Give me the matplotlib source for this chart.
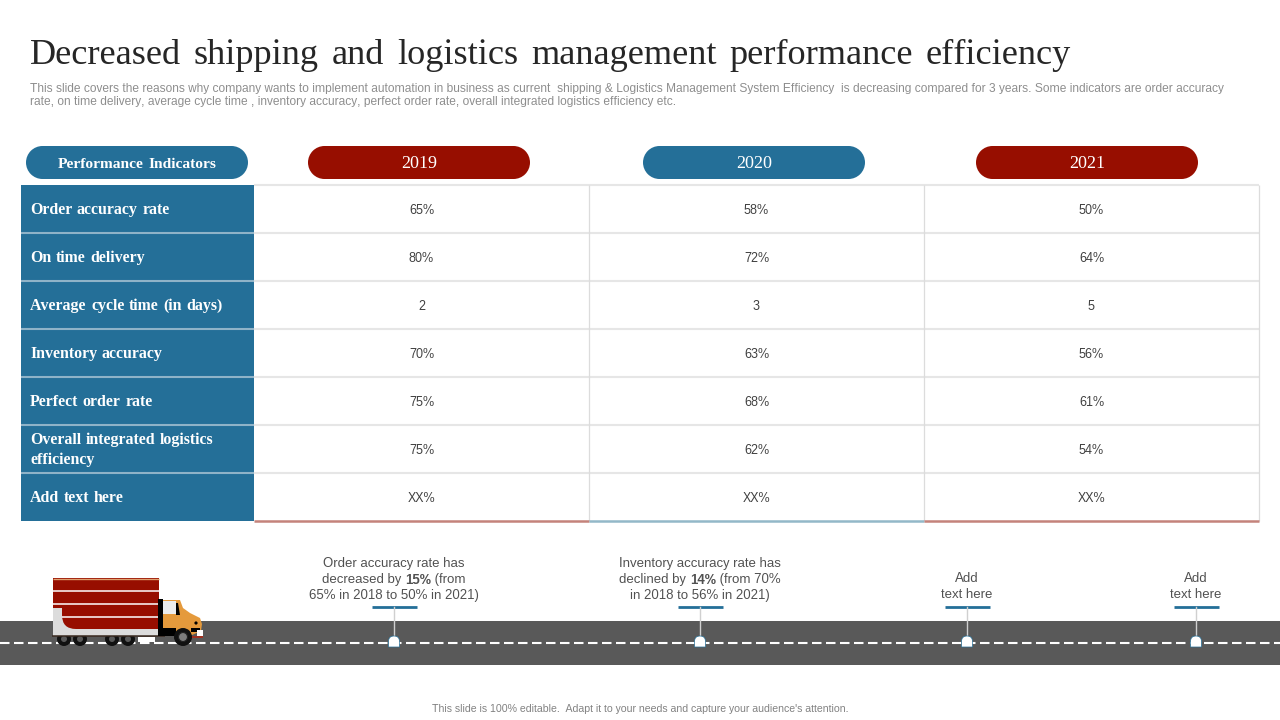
"""Slide: shipping and logistics performance table with road timeline."""
import matplotlib

matplotlib.use("Agg")
import matplotlib.pyplot as plt
from matplotlib.patches import Circle, PathPatch, Polygon, Rectangle
from matplotlib.path import Path

plt.rcParams["text.hinting"] = "default"
plt.rcParams["text.hinting_factor"] = 8
plt.rcParams["text.kerning_factor"] = 6

BLUE = "#246f98"
RED = "#970e00"
ROAD = "#595959"
SANS = "Liberation Sans"
SERIF = "Liberation Serif"

TITLE = "Decreased shipping and logistics management performance efficiency"
SUBTITLE = [
    "This slide covers the reasons why company wants to implement automation in business as current  shipping & Logistics Management System Efficiency  is decreasing compared for 3 years. Some indicators are order accuracy",
    "rate, on time delivery, average cycle time , inventory accuracy, perfect order rate, overall integrated logistics efficiency etc.",
]
FOOTER = "This slide is 100% editable.  Adapt it to your needs and capture your audience's attention."

HEADER = "Performance Indicators"
YEARS = ["2019", "2020", "2021"]
INDICATORS = [
    "Order accuracy rate",
    "On time delivery",
    "Average cycle time (in days)",
    "Inventory accuracy",
    "Perfect order rate",
    "Overall integrated logistics\nefficiency",
    "Add text here",
]
VALUES_2019 = ["65%", "80%", "2", "70%", "75%", "75%", "XX%"]
VALUES_2020 = ["58%", "72%", "3", "63%", "68%", "62%", "XX%"]
VALUES_2021 = ["50%", "64%", "5", "56%", "61%", "54%", "XX%"]

NOTES = [
    [[("Order accuracy rate has", "normal")],
     [("decreased by ", "normal"), ("15%", "bold"), (" (from", "normal")],
     [("65% in 2018 to 50% in 2021)", "normal")]],
    [[("Inventory accuracy rate has", "normal")],
     [("declined by ", "normal"), ("14%", "bold"), (" (from 70%", "normal")],
     [("in 2018 to 56% in 2021)", "normal")]],
    [[("Add", "normal")], [("text here", "normal")]],
    [[("Add", "normal")], [("text here", "normal")]],
]
NOTE_X = [394, 700, 967, 1196]

fig = plt.figure(figsize=(12.8, 7.2), dpi=100)
ax = fig.add_axes([0, 0, 1, 1])
ax.set_xlim(0, 1280)
ax.set_ylim(720, 0)
ax.axis("off")
rend = fig.canvas.get_renderer()


def text_width(s, **kw):
    t = ax.text(0, 0, s.replace(" ", "\u00a0"), **kw)
    w = t.get_window_extent(rend).width
    t.remove()
    return w


def pill(x0, x1, y0, y1, color):
    r = (y1 - y0) / 2
    ax.add_patch(Rectangle((x0 + r, y0), x1 - x0 - 2 * r, y1 - y0, fc=color, ec="none"))
    ax.add_patch(Circle((x0 + r, y0 + r), r, fc=color, ec="none"))
    ax.add_patch(Circle((x1 - r, y0 + r), r, fc=color, ec="none"))


def spaced(x, y, s, gap, center=False, **kw):
    # the slide's word gaps are wider than a normal space, so place word by word
    words = s.split(" ")
    widths = [text_width(w, **kw) for w in words]
    if center:
        x -= (sum(widths) + gap * (len(words) - 1)) / 2
    for w, wd in zip(words, widths):
        ax.text(x, y, w, ha="left", va="baseline", **kw)
        x += wd + gap


def mixed_line(cx, y, parts, size=9.5, color="#505050"):
    widths = [text_width(s, fontsize=size, family=SANS, weight=w) for s, w in parts]
    x = cx - sum(widths) / 2
    for (s, w), wd in zip(parts, widths):
        # bold figures have no descender and land a pixel high
        dy = 1 if w == "bold" else 0
        ax.text(x, y + dy, s.replace(" ", "\u00a0"), fontsize=size, family=SANS, weight=w,
                color=color, ha="left", va="baseline")
        x += wd


# title block
spaced(30, 64, TITLE, 12.8, fontsize=26.15, family=SERIF, color="#262626")
ax.text(30, 88, SUBTITLE[0], fontsize=8.63, family=SANS, color="#8c8c8c", ha="left", va="center")
ax.text(30, 101.6, SUBTITLE[1], fontsize=8.63, family=SANS, color="#8c8c8c", ha="left", va="center")

# header pills
pill(26, 248, 146, 179, BLUE)
spaced(137, 168, HEADER, 5, center=True, fontsize=11.15, family=SERIF, weight="bold", color="white")
year_x = [(308, 530), (643, 865), (976, 1198)]
year_col = [RED, BLUE, RED]
for yr, (x0, x1), c in zip(YEARS, year_x, year_col):
    pill(x0, x1, 146, 179, c)
    ax.text((x0 + x1) / 2, 168.5, yr, fontsize=13, family=SERIF, color="white",
            ha="center", va="baseline")

# table
top, rh = 185, 48
col_x = [254, 589, 924, 1259]
bottom = top + rh * len(INDICATORS)
ax.add_patch(Rectangle((21, top), 233, bottom - top, fc=BLUE, ec="none"))
for i in range(len(INDICATORS) + 1):
    y = top + i * rh
    if i < len(INDICATORS):
        ax.plot([254, 1259], [y, y], color="#e6e6e6", lw=1.5, solid_capstyle="butt")
    if 0 < i < len(INDICATORS):
        ax.plot([21, 254], [y, y], color="#8fb3c8", lw=1.5, solid_capstyle="butt")
for x in col_x[1:]:
    ax.plot([x, x], [top, bottom], color="#dcdcdc", lw=0.9, solid_capstyle="butt")
for (x0, x1), c in zip(zip(col_x[:-1], col_x[1:]), ["#c4837b", "#93b8c8", "#c4837b"]):
    ax.plot([x0, x1], [bottom, bottom], color=c, lw=1.8, solid_capstyle="butt")

for i, label in enumerate(INDICATORS):
    cy = top + rh * i + rh / 2
    lines = label.split("\n")
    off = -10 * (len(lines) - 1)
    for k, ln in enumerate(lines):
        spaced(30, cy + off + 20 * k + 5, ln, 4.5, fontsize=11.4, family=SERIF, weight="bold",
               color="white")
    for j, vals in enumerate([VALUES_2019, VALUES_2020, VALUES_2021]):
        ax.text((col_x[j] + col_x[j + 1]) / 2, cy + 4.5, vals[i], fontsize=9, family=SANS,
                color="#404040", ha="center", va="baseline")

# road
ax.add_patch(Rectangle((0, 621), 1280, 44, fc=ROAD, ec="none"))
ax.plot([0, 1280], [643, 643], color="white", lw=1.5, dashes=(4.56, 2.16))

# callouts on the road
for cx, note in zip(NOTE_X, NOTES):
    ax.plot([cx, cx], [607, 637], color="#d0d0d0", lw=1, zorder=3)
    ax.plot([cx - 22.5, cx + 22.5], [606.5, 606.5], color=BLUE, lw=2, solid_capstyle="butt")
    pin = Path([(cx - 5.5, 647), (cx - 5.5, 641.5), (cx - 5.5, 636), (cx, 636), (cx + 5.5, 636),
                (cx + 5.5, 641.5), (cx + 5.5, 647), (cx - 5.5, 647)],
               [Path.MOVETO, Path.LINETO, Path.CURVE3, Path.CURVE3, Path.CURVE3, Path.CURVE3,
                Path.LINETO, Path.CLOSEPOLY])
    ax.add_patch(PathPatch(pin, fc="white", ec=BLUE, lw=0.5, zorder=4))
    n = len(note)
    for k, parts in enumerate(note):
        mixed_line(cx, 598.5 - 16 * (n - 1 - k), parts)

# truck
ax.add_patch(Rectangle((53, 578), 106, 58, fc="#dcdcdc", ec="none", zorder=5))
body = Path([(53, 578), (159, 578), (159, 629), (76, 629), (62, 629), (62, 615), (62, 608), (53, 608), (53, 578)],
            [Path.MOVETO, Path.LINETO, Path.LINETO, Path.LINETO, Path.CURVE3, Path.CURVE3,
             Path.LINETO, Path.LINETO, Path.CLOSEPOLY])
ax.add_patch(PathPatch(body, fc=RED, ec="none", zorder=6))
ax.plot([53, 159], [578.5, 578.5], color="#e0a070", lw=1, zorder=7, solid_capstyle="butt")
for y, x0 in zip([591.3, 604, 616.7], [53, 53, 62]):
    ax.plot([x0, 159], [y, y], color="white", lw=1.1, zorder=7, solid_capstyle="butt")
ax.plot([52, 165], [635.8, 635.8], color="#3a2a20", lw=1.1, zorder=7, solid_capstyle="butt")
ax.add_patch(Rectangle((138, 637), 17, 4.5, fc="white", ec="none", zorder=5))
for wx in [64, 80, 112, 128]:
    ax.add_patch(Circle((wx, 639), 7, fc="#111111", ec="none", zorder=4))
    ax.add_patch(Circle((wx, 639), 3, fc=ROAD, ec="none", zorder=4))
ax.add_patch(Polygon([(163, 600), (180, 600), (183, 608), (190, 613), (200, 618), (202, 624), (201, 631),
                      (190, 636), (163, 636)], fc="#e59a3c", ec="none", zorder=6))
ax.add_patch(Rectangle((158, 599), 5, 37, fc="black", ec="none", zorder=7))
ax.add_patch(Polygon([(160, 628), (176, 628), (176, 636), (160, 636)], fc="black", ec="none", zorder=7))
ax.add_patch(Rectangle((163, 601), 13, 13, fc="#ececec", ec="none", zorder=7))
ax.add_patch(Polygon([(176, 603), (178, 603), (180, 615), (176, 615)], fc="black", ec="none", zorder=8))
ax.add_patch(Polygon([(191, 628), (200, 628), (200, 632), (191, 632)], fc="black", ec="none", zorder=7))
ax.add_patch(Rectangle((197, 630), 6, 6, fc="white", ec="none", zorder=8))
ax.add_patch(Rectangle((192, 636), 11, 2, fc="#a03020", ec="none", zorder=8))
ax.add_patch(Circle((196, 623), 1.6, fc="black", ec="none", zorder=8))
ax.add_patch(Circle((183, 637), 9, fc="#111111", ec="none", zorder=9))
ax.add_patch(Circle((183, 637), 4.5, fc="#7d7d7d", ec="#222222", lw=0.8, zorder=10))

ax.text(640, 709.5, FOOTER, fontsize=7.6, family=SANS, color="#808080", ha="center", va="center")

fig.savefig("out.png", dpi=100, facecolor="white")
plt.close(fig)
